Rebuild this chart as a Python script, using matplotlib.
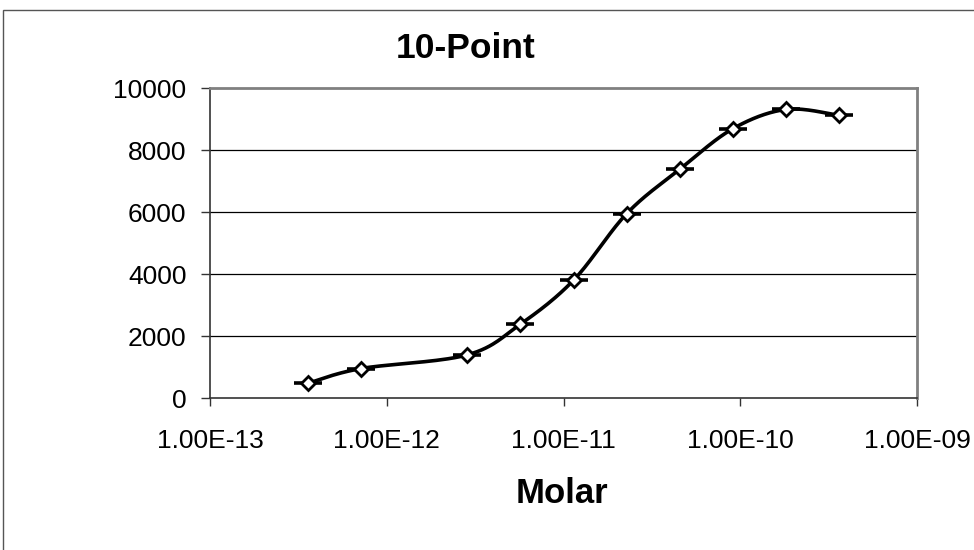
import numpy as np
import matplotlib
matplotlib.use('Agg')
from matplotlib import pyplot as plt
from matplotlib.patches import Rectangle

# data
molar = [3.6e-13, 7.15e-13, 2.85e-12, 5.7e-12, 1.14e-11, 2.28e-11, 4.55e-11, 9.1e-11, 1.82e-10, 3.6e-10]
signal = [480, 950, 1390, 2380, 3800, 5950, 7380, 8690, 9310, 9120]
err_factor = 1.2   # horizontal error bars, multiplicative

x_ticks = [1e-13, 1e-12, 1e-11, 1e-10, 1e-9]
x_labels = ['1.00E-13', '1.00E-12', '1.00E-11', '1.00E-10', '1.00E-09']
y_ticks = [0, 2000, 4000, 6000, 8000, 10000]

plt.rcParams['font.family'] = ['Liberation Sans', 'DejaVu Sans']

fig = plt.figure(figsize=(9.74, 5.5), dpi=100)
ax = fig.add_axes([210/974, 1-398/550, 707/974, 310/550])

# outer chart frame (only left/top visible in the image)
fig.add_artist(Rectangle((3/974, -0.05), 1.1, 1 - 10/550 + 0.05, transform=fig.transFigure,
                         fill=False, edgecolor='#555555', lw=1))

# smooth line like Excel (bezier / catmull-rom in screen-ish space)
u = (np.log10(molar) + 13) / 4 * 707
v = np.array(signal) / 10000 * 310
pts = np.column_stack([u, v])
curve = []
n = len(pts)
for i in range(n - 1):
    p0 = pts[i - 1] if i > 0 else pts[i]
    p1 = pts[i]
    p2 = pts[i + 1]
    p3 = pts[i + 2] if i + 2 < n else pts[i + 1]
    c1 = p1 + (p2 - p0) / 6
    c2 = p2 - (p3 - p1) / 6
    t = np.linspace(0, 1, 30)[:, None]
    seg = (1-t)**3*p1 + 3*(1-t)**2*t*c1 + 3*(1-t)*t**2*c2 + t**3*p2
    curve.append(seg)
curve = np.vstack(curve)
cx = 10 ** (curve[:, 0] / 707 * 4 - 13)
cy = curve[:, 1] / 310 * 10000
ax.plot(cx, cy, color='black', lw=2.6, zorder=3, solid_capstyle='butt')

xm = np.array(molar)
ax.errorbar(xm, signal, xerr=[xm - xm/err_factor, xm*err_factor - xm], fmt='none',
            ecolor='black', elinewidth=2.6, capsize=0, zorder=3)
ax.plot(molar, signal, linestyle='none', marker='D', markersize=7,
        markerfacecolor='white', markeredgecolor='black', markeredgewidth=2, zorder=4)

ax.set_xscale('log')
ax.set_xlim(1e-13, 1e-9)
ax.set_ylim(0, 10000)
ax.set_xticks(x_ticks)
ax.set_xticklabels(x_labels)
ax.minorticks_off()
ax.set_yticks(y_ticks)
ax.tick_params(axis='x', direction='out', length=6, width=1, color='#333333', labelsize=19, pad=16)
ax.tick_params(axis='y', direction='out', length=6.5, width=1, color='#333333', labelsize=19, pad=10.5)

for yv in y_ticks[1:-1]:
    ax.axhline(yv, color='black', lw=0.9, zorder=1)

ax.spines['left'].set_color('#333333')
ax.spines['bottom'].set_color('#333333')
ax.spines['left'].set_linewidth(1.2)
ax.spines['bottom'].set_linewidth(1.2)
ax.spines['top'].set_color('#808080')
ax.spines['right'].set_color('#808080')
ax.spines['top'].set_linewidth(2)
ax.spines['right'].set_linewidth(2)

fig.text(466/974, 1-58/550, '10-Point', ha='center', va='baseline', fontsize=25.5, fontweight='bold')
fig.text(562/974, 1-503/550, 'Molar', ha='center', va='baseline', fontsize=25, fontweight='bold')

fig.savefig('out.png', dpi=100)
